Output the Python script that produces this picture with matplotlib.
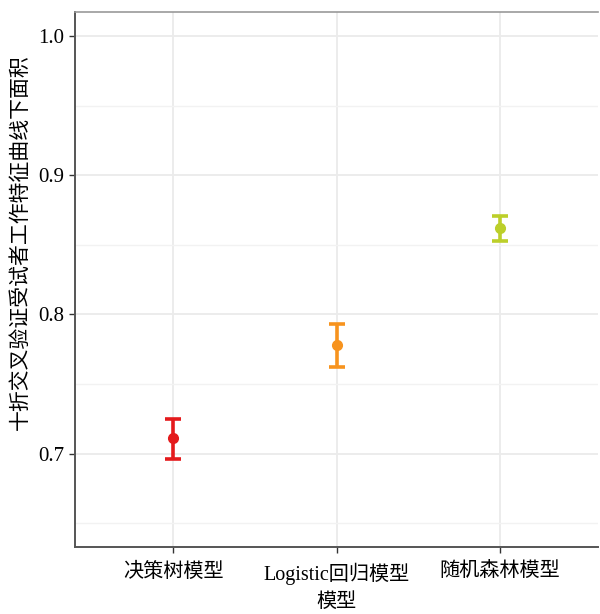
import matplotlib
matplotlib.use("Agg")
import matplotlib.pyplot as plt
from matplotlib.ticker import MultipleLocator

plt.rcParams['font.family'] = ['Liberation Serif', 'Noto Sans CJK SC', 'DejaVu Sans']

models = ["决策树模型", "Logistic回归模型", "随机森林模型"]
auc_mean = [0.711, 0.778, 0.862]
auc_low = [0.696, 0.762, 0.853]
auc_high = [0.725, 0.793, 0.871]
colors = ["#E41A1C", "#F7931E", "#BCCF2A"]

fig = plt.figure(figsize=(6, 6.14), dpi=100)
ax = fig.add_axes([0.125, 0.109, 0.872, 0.871])

xs = list(range(1, len(models) + 1))
for x, m, lo, hi, c in zip(xs, auc_mean, auc_low, auc_high, colors):
    ax.errorbar(x, m, yerr=[[m - lo], [hi - m]], fmt='o', color=c, ecolor=c,
                elinewidth=2.6, capsize=6, capthick=2.6, markersize=7, zorder=3)

ax.set_xlim(0.4, 3.6)
ax.set_ylim(0.633, 1.017)
ax.set_xticks(xs)
ax.set_xticklabels(models, fontsize=14.5)
ax.yaxis.set_minor_locator(MultipleLocator(0.05))
ax.set_yticks([0.7, 0.8, 0.9, 1.0])
ax.set_yticklabels(["0.7", "0.8", "0.9", "1.0"], fontsize=15)

ax.grid(True, which='major', color='#EBEBEB', linewidth=1.3, zorder=0)
ax.grid(True, which='minor', axis='y', color='#F2F2F2', linewidth=1.0, zorder=0)
ax.tick_params(axis='both', which='major', length=4, width=1, color='#333333',
               labelcolor='black', pad=4)
ax.tick_params(axis='y', which='minor', length=0)
ax.tick_params(axis='x', pad=7)

for side in ['left', 'bottom']:
    ax.spines[side].set_color('#555555')
    ax.spines[side].set_linewidth(1.4)
ax.spines['top'].set_color('#999999')
ax.spines['top'].set_linewidth(1.2)
ax.spines['right'].set_visible(False)

ax.set_xlabel("模型", fontsize=14.5, labelpad=6)
ax.set_ylabel("十折交叉验证受试者工作特征曲线下面积", fontsize=15)
ax.yaxis.set_label_coords(-0.085, 0.57)

fig.savefig("out.png", dpi=100, facecolor='white')
